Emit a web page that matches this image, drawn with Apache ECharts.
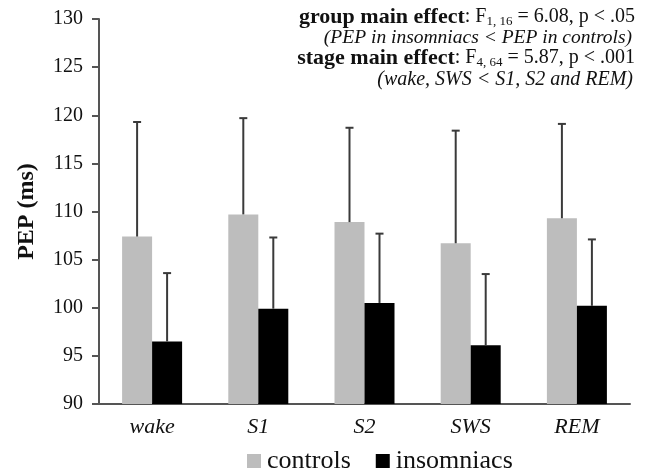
<!DOCTYPE html>
<html>
<head>
<meta charset="utf-8">
<script src="https://cdn.jsdelivr.net/npm/echarts@6/dist/echarts.min.js"></script>
<style>html,body{margin:0;padding:0;background:#fff}#c{width:646px;height:471px}</style>
</head>
<body>
<div id="c"></div>
<script>
const categories = ['wake', 'S1', 'S2', 'SWS', 'REM'];
const controls = [107.4, 109.7, 108.9, 106.7, 109.3];
const insomniacs = [96.5, 99.9, 100.5, 96.1, 100.2];
const controlsSD = [11.9, 10.0, 9.8, 11.7, 9.8];
const insomniacsSD = [7.1, 7.4, 7.2, 7.4, 6.9];
const yTicks = [90, 95, 100, 105, 110, 115, 120, 125, 130];

const serif = '"Liberation Serif", "DejaVu Serif", serif';
const BAR_W = 30;

function errSeries(name, vals, sds, offset) {
  return {
    type: 'custom',
    name: name + '_err',
    z: 10,
    data: vals.map((v, i) => [i, v, v + sds[i]]),
    renderItem: function (params, api) {
      const base = api.coord([api.value(0), api.value(1)]);
      const top = api.coord([api.value(0), api.value(2)]);
      const x = base[0] + offset;
      const style = { stroke: '#3a3a3a', lineWidth: 2 };
      return {
        type: 'group',
        children: [
          { type: 'line', shape: { x1: x, y1: base[1], x2: x, y2: top[1] }, style: style },
          { type: 'line', shape: { x1: x - 4, y1: top[1], x2: x + 4, y2: top[1] }, style: style }
        ]
      };
    }
  };
}

const sub = { fontFamily: serif, fontSize: 13, fill: '#111', padding: [10, 0, 0, 0] };
const richLine = {
  b: { fontFamily: serif, fontWeight: 'bold', fontSize: 22, fill: '#111' },
  n: { fontFamily: serif, fontSize: 20, fill: '#111' },
  s: sub
};
const chart = echarts.init(document.getElementById('c'));
chart.setOption({
  animation: false,
  backgroundColor: '#fff',
  grid: { left: 99, right: 16, top: 19, bottom: 67 },
  legend: {
    data: ['controls', 'insomniacs'],
    top: 443,
    left: 242,
    itemWidth: 14,
    itemHeight: 14,
    itemGap: 25,
    icon: 'rect',
    textStyle: { fontFamily: serif, fontSize: 26, color: '#111', padding: [0, 0, 0, 1] }
  },
  xAxis: {
    type: 'category',
    data: categories,
    axisLine: { lineStyle: { color: '#555', width: 2 } },
    axisTick: { show: false },
    axisLabel: { fontFamily: serif, fontStyle: 'italic', fontSize: 22, color: '#111', margin: 12 }
  },
  yAxis: {
    type: 'value',
    min: 90, max: 130, interval: 5,
    name: 'PEP (ms)',
    nameLocation: 'middle',
    nameGap: 60,
    nameTextStyle: { fontFamily: serif, fontWeight: 'bold', fontSize: 24, color: '#111' },
    axisLine: { show: true, lineStyle: { color: '#555', width: 2 } },
    axisTick: { show: true, length: 7, lineStyle: { color: '#555', width: 2 } },
    splitLine: { show: false },
    axisLabel: { fontFamily: serif, fontSize: 20, color: '#111', margin: 16,
      formatter: v => yTicks.includes(v) ? String(v) : '' }
  },
  series: [
    { name: 'controls', type: 'bar', data: controls, barWidth: BAR_W, barGap: '0%',
      itemStyle: { color: '#bdbdbd' } },
    { name: 'insomniacs', type: 'bar', data: insomniacs, barWidth: BAR_W, barGap: '0%',
      itemStyle: { color: '#000' } },
    errSeries('controls', controls, controlsSD, -BAR_W / 2),
    errSeries('insomniacs', insomniacs, insomniacsSD, BAR_W / 2)
  ],
  graphic: [
    { type: 'text', right: 11, top: 6, style: {
      text: '{b|group main effect}{n|: F}{s|1, 16}{n| = 6.08, p < .05}', rich: richLine } },
    { type: 'text', right: 14, top: 28, style: {
      text: '(PEP in insomniacs < PEP in controls)',
      font: 'italic 19.5px ' + serif, fill: '#111' } },
    { type: 'text', right: 11, top: 47, style: {
      text: '{b|stage main effect}{n|: F}{s|4, 64}{n| = 5.87, p < .001}', rich: richLine } },
    { type: 'text', right: 13, top: 70, style: {
      text: '(wake, SWS < S1, S2 and REM)',
      font: 'italic 20px ' + serif, fill: '#111' } }
  ]
});
</script>
</body>
</html>
